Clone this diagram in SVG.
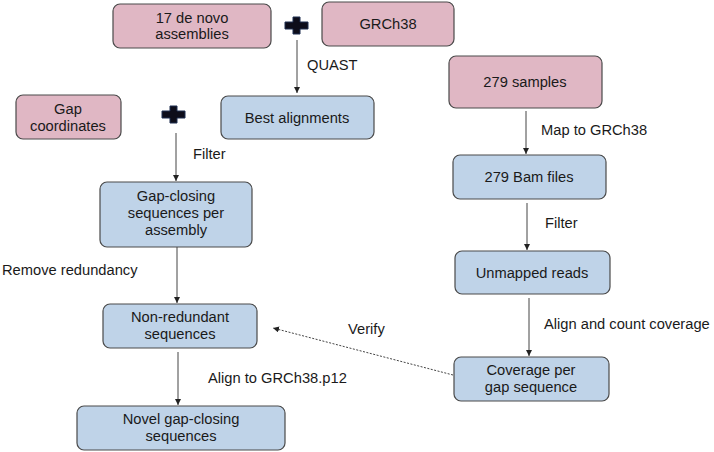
<svg xmlns="http://www.w3.org/2000/svg" width="714" height="452" viewBox="0 0 714 452">
<style>
.n rect{stroke:#4a4a4a;stroke-width:1.2}
.p rect{fill:#e0b7c4}
.b rect{fill:#bfd3e8}
text{font-family:"Liberation Sans",Arial,sans-serif;font-size:14.7px;fill:#1a1a1a}
.n text{text-anchor:middle}
.c line{stroke:#444;stroke-width:1}
</style>
<defs>
<marker id="ah" markerWidth="8" markerHeight="8" refX="6" refY="3" orient="auto" markerUnits="userSpaceOnUse">
<path d="M0,0 L6,3 L0,6 Z" fill="#222"/>
</marker>
</defs>
<rect width="714" height="452" fill="#fff"/>
<g id="plus1"><path d="M293,17 h7 v5 h8 v7 h-8 v5 h-7 v-5 h-8 v-7 h8 z" fill="#0d0d1a" stroke="#1e2e50" stroke-width="1"/></g>
<g id="plus2"><path d="M170,106 h7 v5 h8 v7 h-8 v5 h-7 v-5 h-8 v-7 h8 z" fill="#0d0d1a" stroke="#1e2e50" stroke-width="1"/></g>
<g class="c" id="connectors">
<line x1="297" y1="40" x2="297" y2="93" marker-end="url(#ah)"/>
<line x1="176" y1="133" x2="176" y2="181" marker-end="url(#ah)"/>
<line x1="177" y1="247" x2="177" y2="303" marker-end="url(#ah)"/>
<line x1="178" y1="352" x2="178" y2="405" marker-end="url(#ah)"/>
<line x1="526" y1="111" x2="526" y2="154" marker-end="url(#ah)"/>
<line x1="527" y1="203" x2="527" y2="250" marker-end="url(#ah)"/>
<line x1="529" y1="298" x2="529" y2="356" marker-end="url(#ah)"/>
<line x1="453" y1="375" x2="273" y2="328" stroke-dasharray="2,1.5" marker-end="url(#ah)"/>
</g>
<g id="labels">
<text x="307" y="70">QUAST</text>
<text x="193" y="159">Filter</text>
<text x="2" y="275">Remove redundancy</text>
<text x="208" y="383">Align to GRCh38.p12</text>
<text x="541" y="135">Map to GRCh38</text>
<text x="545" y="228">Filter</text>
<text x="544" y="329">Align and count coverage</text>
<text x="348" y="334">Verify</text>
</g>
<g id="n1" class="n p"><rect x="113" y="4" width="158" height="44" rx="7"/><text x="192" y="23">17 de novo</text><text x="192" y="39">assemblies</text></g>
<g id="n2" class="n p"><rect x="322" y="2" width="132" height="44" rx="7"/><text x="388" y="29">GRCh38</text></g>
<g id="n3" class="n b"><rect x="221" y="96" width="153" height="43" rx="7"/><text x="297" y="123">Best alignments</text></g>
<g id="n4" class="n p"><rect x="16" y="95" width="105" height="44" rx="7"/><text x="68" y="114">Gap</text><text x="68" y="131">coordinates</text></g>
<g id="n5" class="n b"><rect x="100" y="182" width="152" height="65" rx="7"/><text x="176" y="201">Gap-closing</text><text x="176" y="218">sequences per</text><text x="176" y="235">assembly</text></g>
<g id="n6" class="n b"><rect x="103" y="304" width="154" height="44" rx="7"/><text x="180" y="322">Non-redundant</text><text x="180" y="339">sequences</text></g>
<g id="n7" class="n b"><rect x="77" y="406" width="208" height="44" rx="7"/><text x="181" y="424">Novel gap-closing</text><text x="181" y="441">sequences</text></g>
<g id="n8" class="n p"><rect x="449" y="56" width="153" height="52" rx="7"/><text x="525" y="87">279 samples</text></g>
<g id="n9" class="n b"><rect x="453" y="155" width="153" height="44" rx="7"/><text x="529" y="182">279 Bam files</text></g>
<g id="n10" class="n b"><rect x="455" y="251" width="155" height="43" rx="7"/><text x="532" y="278">Unmapped reads</text></g>
<g id="n11" class="n b"><rect x="454" y="357" width="155" height="44" rx="7"/><text x="531" y="375">Coverage per</text><text x="531" y="392">gap sequence</text></g>
</svg>
